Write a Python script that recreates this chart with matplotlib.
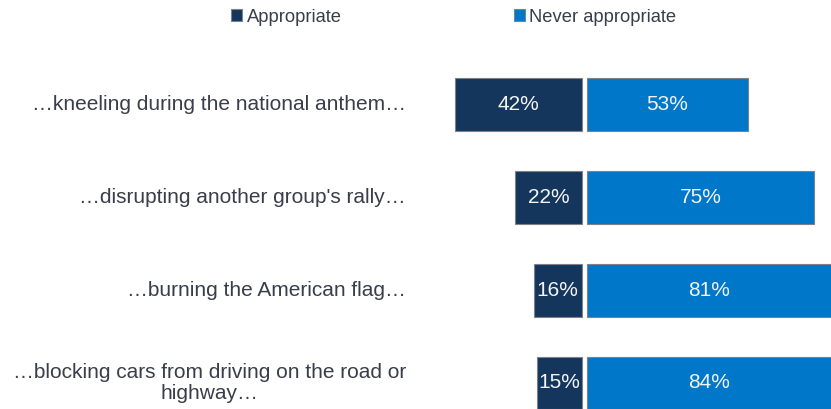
import matplotlib
matplotlib.use("Agg")
import matplotlib.pyplot as plt
from matplotlib.transforms import blended_transform_factory

plt.rcParams['font.family'] = ['Liberation Sans', 'DejaVu Sans']

categories = [
    "…kneeling during the national anthem…",
    "…disrupting another group's rally…",
    "…burning the American flag…",
    "…blocking cars from driving on the road or\nhighway…",
]
appropriate = [42, 22, 16, 15]
never_appropriate = [53, 75, 81, 84]
series_names = ["Appropriate", "Never appropriate"]

DARK = "#14365d"
BLUE = "#0077c8"
EDGE = "#7f8088"
TEXT = "#3a3d4a"

fig = plt.figure(figsize=(8.31, 4.09), dpi=100)
ax = fig.add_axes([0, 0, 1, 1])

gap = 1.65
ypos = list(range(len(categories)))

b1 = ax.barh(ypos, [-v for v in appropriate], left=0, height=0.57,
             color=DARK, edgecolor=EDGE, linewidth=0.8, label=series_names[0])
b2 = ax.barh(ypos, never_appropriate, left=gap, height=0.57,
             color=BLUE, edgecolor=EDGE, linewidth=0.8, label=series_names[1])

ax.bar_label(b1, labels=[f"{v}%" for v in appropriate], label_type='center',
             color="#f4f4f4", fontsize=15)
ax.bar_label(b2, labels=[f"{v}%" for v in never_appropriate], label_type='center',
             color="#f4f4f4", fontsize=15)

ax.set_xlim(-192.1, 82.2)
ax.set_ylim(3.28, -1.126)
ax.axis('off')

trans = blended_transform_factory(ax.transAxes, ax.transData)
for y, cat in zip(ypos, categories):
    ax.text(0.4885, y, cat, transform=trans, ha='right', va='center',
            multialignment='center', fontsize=15, color=TEXT, linespacing=1.15)

fig.legend(handles=[b1, b2], labels=series_names, loc='center',
           bbox_to_anchor=(0.546, 0.958), ncol=2, frameon=False,
           fontsize=13.2, handlelength=0.6, handleheight=0.6,
           handletextpad=0.25, columnspacing=9.4, labelcolor=TEXT)

fig.savefig("out.png", dpi=100)
